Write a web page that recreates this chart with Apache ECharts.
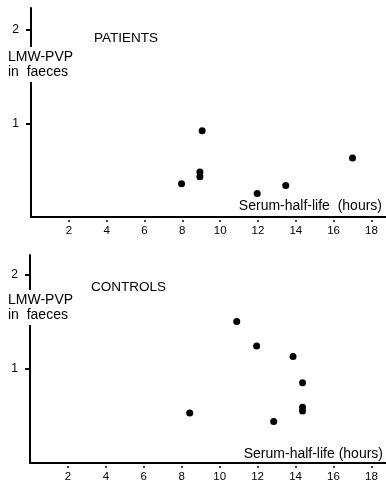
<!DOCTYPE html>
<html>
<head>
<meta charset="utf-8">
<script src="https://cdn.jsdelivr.net/npm/echarts@6/dist/echarts.min.js"></script>
<style>
  html, body { margin: 0; padding: 0; background: #fff; }
  #chart { width: 386px; height: 487px; }
</style>
</head>
<body>
<div id="chart"></div>
<script>
// Serum half-life (hours) versus LMW-PVP recovered in faeces
const hourTicks = [2, 4, 6, 8, 10, 12, 14, 16, 18];
const faecesTicks = [1, 2];

const patientsHalfLife = [9.05, 17.0, 8.93, 8.93, 7.96, 11.96, 13.47];
const patientsFaeces   = [0.92, 0.63, 0.48, 0.43, 0.355, 0.25, 0.335];

const controlsHalfLife = [10.9, 11.95, 13.87, 14.37, 14.37, 14.37, 8.42, 12.85];
const controlsFaeces   = [1.50, 1.24, 1.13, 0.85, 0.59, 0.55, 0.53, 0.44];

const FONT = '"Liberation Sans", Arial, Helvetica, sans-serif';
const INK = '#000';

function pairs(xs, ys) {
  return xs.map((x, i) => [x, ys[i]]);
}

// axis that carries only the line
function xLineAxis(gridIndex) {
  return {
    type: 'value', gridIndex, min: 0, max: 18.77, interval: 2,
    axisLine: { show: true, lineStyle: { color: INK, width: 2 } },
    axisTick: { show: false }, axisLabel: { show: false }, splitLine: { show: false }
  };
}
// same scale, pushed slightly down, carrying the small ticks and numbers
function xTickAxis(gridIndex) {
  return {
    type: 'value', gridIndex, min: 0, max: 18.77, interval: 2,
    position: 'bottom', offset: 3,
    axisLine: { show: false },
    axisTick: { show: true, length: 2, customValues: hourTicks, lineStyle: { color: INK, width: 1.5 } },
    axisLabel: { show: true, customValues: hourTicks, margin: 5, color: INK, fontSize: 11.5, fontFamily: FONT },
    splitLine: { show: false }
  };
}
function yAxis(gridIndex, max) {
  return {
    type: 'value', gridIndex, min: 0, max, interval: 1,
    axisLine: { show: true, lineStyle: { color: INK, width: 2 } },
    axisTick: { show: true, length: 5, customValues: faecesTicks, lineStyle: { color: INK, width: 2 } },
    axisLabel: {
      show: true, margin: 12, color: INK, fontSize: 12, fontFamily: FONT,
      customValues: faecesTicks
    },
    splitLine: { show: false }
  };
}

function textEl(x, y, text, align, size) {
  return {
    type: 'text', x, y, z: 100,
    style: {
      text, fill: INK, font: size + 'px ' + FONT,
      align, verticalAlign: 'middle'
    }
  };
}

function yNameEl(top) {
  return {
    type: 'text', x: 8, y: top, z: 100,
    style: {
      text: 'LMW-PVP\nin  faeces', fill: INK, font: '14px ' + FONT,
      lineHeight: 15, align: 'left', verticalAlign: 'top',
      backgroundColor: '#fff', padding: [3, 4, 2, 0]
    }
  };
}

const dotStyle = { color: INK, opacity: 1 };

const option = {
  animation: false,
  backgroundColor: '#fff',
  grid: [
    { left: 31, right: 0, top: 8, bottom: 270 },
    { left: 30, right: 0, top: 255, bottom: 24 }
  ],
  xAxis: [xLineAxis(0), xTickAxis(0), xLineAxis(1), xTickAxis(1)],
  yAxis: [yAxis(0, 2.23), yAxis(1, 2.205)],
  series: [
    {
      name: 'PATIENTS', type: 'scatter', xAxisIndex: 0, yAxisIndex: 0,
      data: pairs(patientsHalfLife, patientsFaeces),
      symbol: 'circle', symbolSize: 7, itemStyle: dotStyle
    },
    {
      name: 'CONTROLS', type: 'scatter', xAxisIndex: 2, yAxisIndex: 1,
      data: pairs(controlsHalfLife, controlsFaeces),
      symbol: 'circle', symbolSize: 7, itemStyle: dotStyle
    }
  ],
  graphic: [
    yNameEl(47),
    yNameEl(290),
    textEl(94, 38, 'PATIENTS', 'left', 13.5),
    textEl(91, 287, 'CONTROLS', 'left', 13.5),
    textEl(382, 206, 'Serum-half-life  (hours)', 'right', 14),
    textEl(383, 454, 'Serum-half-life (hours)', 'right', 14)
  ]
};

const chart = echarts.init(document.getElementById('chart'), null, { renderer: 'canvas' });
chart.setOption(option);
</script>
</body>
</html>
